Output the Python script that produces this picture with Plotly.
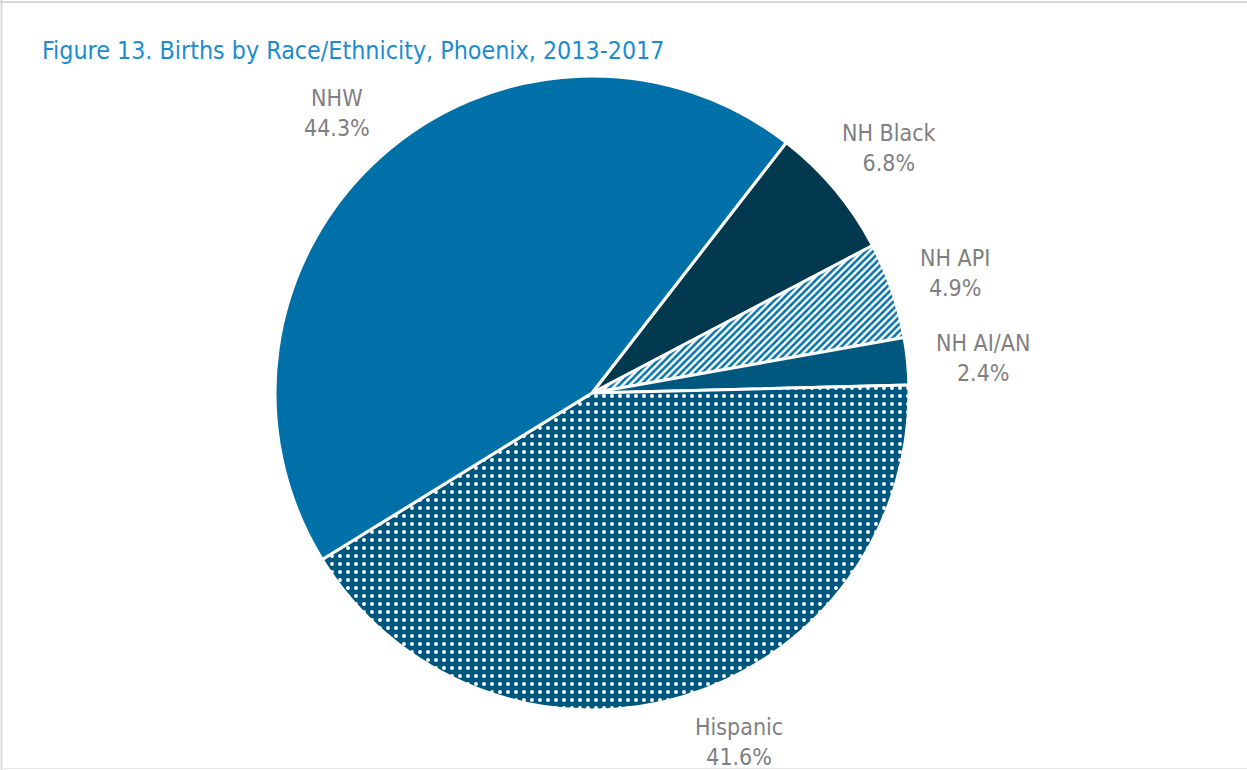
import math
import plotly.graph_objects as go

# Births by race/ethnicity, clockwise from the NHW / NH Black boundary
categories = ["NH Black", "NH API", "NH AI/AN", "Hispanic", "NHW"]
shares = [6.8, 4.9, 2.4, 41.6, 44.3]
pct_labels = ["6.8%", "4.9%", "2.4%", "41.6%", "44.3%"]

bg_colors = ["#03394F", "#FFFFFF", "#00587F", "#00577E", "#0071A8"]
fg_colors = ["#03394F", "#0071A8", "#00587F", "#FFFFFF", "#0071A8"]
shapes_pat = ["", "/", "", ".", ""]
pat_size = [8, 5, 8, 8, 8]
pat_solid = [0.3, 0.5, 0.3, 0.18, 0.3]

W, H = 1247, 770
CX, CY, R = 592, 393, 317
START = 37.8  # degrees clockwise from 12 o'clock

FONT = "Liberation Sans Narrow, Arial Narrow, DejaVu Sans Condensed, sans-serif"
LABEL_SIZE = 23

fig = go.Figure(
    go.Pie(
        labels=categories,
        values=shares,
        sort=False,
        direction="clockwise",
        rotation=START,
        textinfo="none",
        hoverinfo="label+percent",
        showlegend=False,
        domain=dict(x=[(CX - R) / W, (CX + R) / W], y=[1 - (CY + R) / H, 1 - (CY - R) / H]),
        marker=dict(
            colors=bg_colors,
            line=dict(color="white", width=3),
            pattern=dict(
                shape=shapes_pat,
                fgcolor=fg_colors,
                bgcolor=bg_colors,
                size=pat_size,
                solidity=pat_solid,
                fillmode="replace",
            ),
        ),
    )
)

# Outside labels placed along each slice's mid-angle, a fixed gap beyond the rim;
# a label that would run past the bottom edge slides along the ring until it fits.
total = sum(shares)
acc = 0.0
annotations = []
gap = 31
half_h = 25
for name, val, txt in zip(categories, shares, pct_labels):
    ang = START + (acc + val / 2) / total * 360
    acc += val
    half_w = 0.5 * max(len(name), len(txt)) * 11.2
    while True:
        a = math.radians(ang)
        sx, sy = math.sin(a), math.cos(a)
        d_edge = min(half_w / max(abs(sx), 1e-6), half_h / max(abs(sy), 1e-6))
        dist = R + gap + d_edge
        px = CX + dist * sx
        py = CY - dist * sy
        if py + half_h <= H - 6 or not (90 < ang % 360 < 270):
            break
        ang += -0.5 if (ang % 360) < 180 else 0.5
    annotations.append(
        dict(
            x=px / W, y=1 - (py + 4) / H, xref="paper", yref="paper",
            text=f"{name}<br>{txt}", showarrow=False,
            xanchor="center", yanchor="middle", align="center",
            font=dict(family=FONT, size=LABEL_SIZE, color="#7F7F7F"),
        )
    )

annotations.append(
    dict(
        x=40 / W, y=1 - 50 / H, xref="paper", yref="paper",
        text="Figure 13. Births by Race/Ethnicity, Phoenix, 2013-2017",
        showarrow=False, xanchor="left", yanchor="middle",
        font=dict(family=FONT, size=24.8, color="#1B8CCF"),
    )
)

fig.update_layout(
    width=W, height=H,
    margin=dict(l=0, r=0, t=0, b=0),
    paper_bgcolor="white",
    annotations=annotations,
    shapes=[
        dict(type="line", xref="paper", yref="paper", x0=0, x1=1, y0=1 - 2 / H, y1=1 - 2 / H,
             line=dict(color="#D9D9D9", width=2)),
        dict(type="line", xref="paper", yref="paper", x0=1.5 / W, x1=1.5 / W, y0=0, y1=1,
             line=dict(color="#D9D9D9", width=2)),
        dict(type="line", xref="paper", yref="paper", x0=0, x1=1, y0=1.5 / H, y1=1.5 / H,
             line=dict(color="#EBEBEB", width=1)),
    ],
)

fig.write_html("out.html")
